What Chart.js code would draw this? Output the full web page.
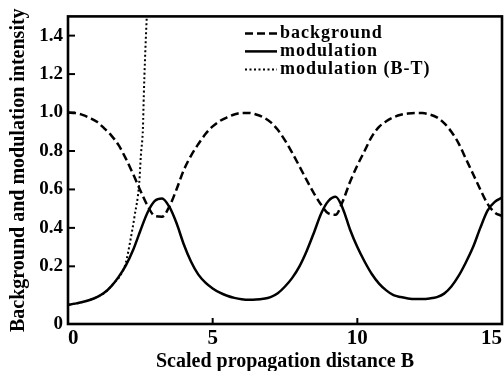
<!DOCTYPE html>
<html><head><meta charset="utf-8">
<script src="https://cdn.jsdelivr.net/npm/chart.js@4/dist/chart.umd.min.js"></script>
<style>html,body{margin:0;padding:0;background:#fff}#wrap{width:504px;height:371px}</style>
</head><body><div id="wrap"><canvas id="c" width="504" height="371"></canvas></div>
<script>
// ---- data ----
const distB = [0, 0.25, 0.5, 0.75, 1, 1.25, 1.5, 1.75, 2, 2.25, 2.5, 2.75, 3, 3.25, 3.5, 3.75, 4, 4.25, 4.5, 4.75, 5, 5.25, 5.5, 5.75, 6, 6.25, 6.5, 6.75, 7, 7.25, 7.5, 7.75, 8, 8.25, 8.5, 8.75, 9, 9.25, 9.5, 9.75, 10, 10.25, 10.5, 10.75, 11, 11.25, 11.5, 11.75, 12, 12.25, 12.5, 12.75, 13, 13.25, 13.5, 13.75, 14, 14.25, 14.5, 14.75, 15];

const backgroundV = [1.0, 0.997, 0.988, 0.972, 0.952, 0.918, 0.88, 0.83, 0.76, 0.68, 0.595, 0.515, 0.462, 0.458, 0.51, 0.60, 0.70, 0.775, 0.835, 0.888, 0.928, 0.956, 0.975, 0.99, 0.998, 0.998, 0.99, 0.975, 0.95, 0.91, 0.855, 0.79, 0.72, 0.648, 0.58, 0.52, 0.475, 0.468, 0.54, 0.64, 0.725, 0.80, 0.875, 0.925, 0.955, 0.975, 0.988, 0.995, 0.998, 0.997, 0.99, 0.975, 0.945, 0.90, 0.84, 0.76, 0.68, 0.60, 0.525, 0.48, 0.462];

const modulationV = [0.0, 0.006, 0.014, 0.025, 0.04, 0.062, 0.097, 0.145, 0.205, 0.285, 0.385, 0.48, 0.54, 0.553, 0.51, 0.425, 0.315, 0.225, 0.158, 0.115, 0.085, 0.063, 0.047, 0.036, 0.029, 0.026, 0.027, 0.031, 0.04, 0.06, 0.095, 0.14, 0.2, 0.28, 0.375, 0.475, 0.54, 0.562, 0.50, 0.39, 0.30, 0.225, 0.16, 0.11, 0.075, 0.05, 0.04, 0.033, 0.03, 0.03, 0.033, 0.04, 0.058, 0.095, 0.15, 0.22, 0.30, 0.40, 0.49, 0.535, 0.557];

const btB = [0, 0.5, 1.0, 1.3, 1.6, 1.8, 2.0, 2.15, 2.3, 2.46, 2.52, 2.59, 2.62, 2.66, 2.72, 2.76];
const btV = [0.0, 0.014, 0.04, 0.066, 0.115, 0.15, 0.22, 0.33, 0.46, 0.63, 0.78, 0.92, 1.09, 1.27, 1.49, 1.62];

const seriesLabels = ['background', 'modulation', 'modulation (B-T)'];
const xTickValues = [0, 5, 10, 15];
const xTickLabels = ['0', '5', '10', '15'];
const yTickValues = [0.2, 0.4, 0.6, 0.8, 1.0, 1.2, 1.4];
const yTickLabels = ['0.2', '0.4', '0.6', '0.8', '1.0', '1.2', '1.4'];
const originLabel = '0';
const xTitle = 'Scaled propagation distance B';
const yTitle = 'Background and modulation intensity';

// ---- chart ----
const SERIF = "'Liberation Serif','Times New Roman',serif";
const pts = (xs, ys) => xs.map((x, i) => ({x: x, y: ys[i]}));

const framePlugin = {
  id: 'frame',
  afterDatasetsDraw(chart) {
    const {ctx, chartArea: a, scales: {x, y}} = chart;
    ctx.save();
    ctx.strokeStyle = '#000';
    ctx.lineWidth = 2.6;
    ctx.strokeRect(a.left, a.top, a.right - a.left, a.bottom - a.top);
    ctx.lineWidth = 2;
    y.ticks.forEach(t => {
      if (t.value <= y.min || t.value >= y.max) return;
      const py = y.getPixelForValue(t.value);
      ctx.beginPath(); ctx.moveTo(a.left, py); ctx.lineTo(a.left + 7, py); ctx.stroke();
    });
    x.ticks.forEach(t => {
      if (t.value <= x.min || t.value >= x.max) return;
      const px = x.getPixelForValue(t.value);
      ctx.beginPath(); ctx.moveTo(px, a.bottom); ctx.lineTo(px, a.bottom - 6); ctx.stroke();
    });
    ctx.restore();
  }
};

const legendPlugin = {
  id: 'inlineLegend',
  afterDatasetsDraw(chart, args, opts) {
    const {ctx, chartArea: a} = chart;
    ctx.save();
    ctx.font = 'bold ' + opts.size + 'px ' + SERIF;
    if ('letterSpacing' in ctx) ctx.letterSpacing = opts.spacing + 'px';
    ctx.textBaseline = 'middle';
    ctx.fillStyle = '#000';
    chart.data.datasets.forEach((ds, i) => {
      const yy = a.top + opts.top + i * opts.rowGap;
      const x0 = a.left + opts.left;
      ctx.beginPath();
      ctx.setLineDash(ds.borderDash || []);
      ctx.lineWidth = ds.borderWidth;
      ctx.strokeStyle = ds.borderColor;
      ctx.moveTo(x0, yy); ctx.lineTo(x0 + opts.sample, yy); ctx.stroke();
      ctx.setLineDash([]);
      ctx.fillText(ds.label, x0 + opts.sample + opts.gap, yy);
    });
    ctx.restore();
  }
};

new Chart(document.getElementById('c'), {
  type: 'line',
  data: {
    datasets: [
      {label: seriesLabels[0], data: pts(distB, backgroundV), borderColor: '#000', borderWidth: 2.5, borderDash: [8, 4], pointRadius: 0, cubicInterpolationMode: 'monotone', fill: false},
      {label: seriesLabels[1], data: pts(distB, modulationV), borderColor: '#000', borderWidth: 2.5, pointRadius: 0, cubicInterpolationMode: 'monotone', fill: false},
      {label: seriesLabels[2], data: pts(btB, btV), borderColor: '#000', borderWidth: 2, borderDash: [2, 2.5], pointRadius: 0, cubicInterpolationMode: 'monotone', fill: false}
    ]
  },
  options: {
    responsive: false,
    animation: false,
    devicePixelRatio: 1,
    layout: {padding: {top: 15, right: 2, left: 0, bottom: 0}},
    plugins: {
      legend: {display: false},
      tooltip: {enabled: false},
      inlineLegend: {size: 18, spacing: 1, top: 17, rowGap: 18, left: 177, sample: 32, gap: 3}
    },
    scales: {
      x: {
        type: 'linear', min: 0, max: 15,
        afterBuildTicks: s => { s.ticks = xTickValues.map(v => ({value: v})); },
        afterFit: s => { s.height = 47; },
        grid: {display: false, drawTicks: false},
        border: {display: false},
        ticks: {
          align: 'inner', padding: 2, color: '#000', maxRotation: 0, autoSkip: false,
          font: {family: SERIF, size: 21, weight: 'bold'},
          callback: (v, i) => xTickLabels[i]
        },
        title: {display: true, text: xTitle, color: '#000', padding: 0,
          font: {family: SERIF, size: 20, weight: 'bold', lineHeight: 0.9}}
      },
      y: {
        type: 'linear', min: -0.1, max: 1.5,
        afterBuildTicks: s => { s.ticks = [{value: s.min}].concat(yTickValues.map(v => ({value: v}))); },
        afterFit: s => { s.width = 68; },
        grid: {display: false, drawTicks: false},
        border: {display: false},
        ticks: {
          padding: 5, color: '#000', autoSkip: false,
          font: {family: SERIF, size: 19, weight: 'bold'},
          callback: (v, i) => i === 0 ? originLabel : yTickLabels[i - 1]
        },
        title: {display: true, text: yTitle, color: '#000', padding: {top: 7, bottom: 0},
          font: {family: SERIF, size: 20, weight: 'bold', lineHeight: 1.2}}
      }
    }
  },
  plugins: [framePlugin, legendPlugin]
});
</script>
</body></html>
